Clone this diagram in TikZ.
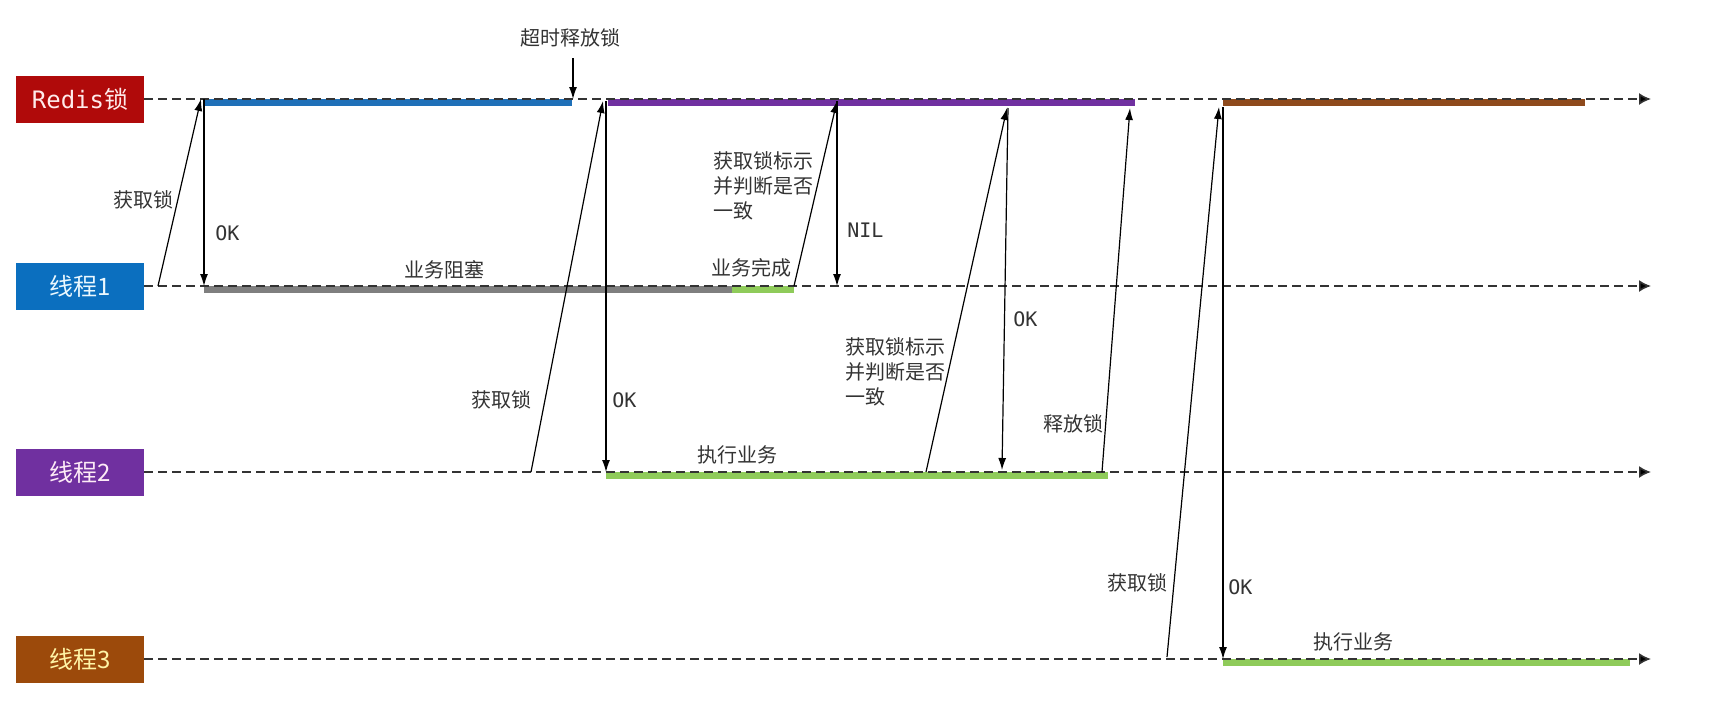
\documentclass[tikz,border=0pt]{standalone}
\usepackage{fontspec}
\setmainfont{Noto Sans CJK SC}
\newfontfamily\mono{DejaVu Sans Mono}
\usetikzlibrary{arrows.meta}

\definecolor{rougeverrou}{HTML}{B00A0A}
\definecolor{bleufil}{HTML}{0B6FBF}
\definecolor{bleubarre}{HTML}{1F70B8}
\definecolor{violetfil}{HTML}{7030A0}
\definecolor{brunfil}{HTML}{9C4A0B}
\definecolor{brunbarre}{HTML}{8E4A1C}
\definecolor{vertbarre}{HTML}{8FCB5A}
\definecolor{grisbarre}{HTML}{7F7F7F}

\begin{document}
\begin{tikzpicture}[x=0.5pt,y=-0.5pt]
    % Styles
    \tikzstyle{fleche}=[-{Latex[length=6pt,width=4pt]},line width=0.6pt,black]
    \tikzstyle{ligne}=[-{Latex[length=6pt,width=6pt,fill=black]},dash pattern=on 4.5pt off 2.5pt,line width=0.8pt,draw=black!80]
    \tikzstyle{boite}=[minimum width=64pt,minimum height=23.5pt,inner sep=0pt,font=\fontsize{12}{14}\selectfont]
    \tikzstyle{etiquette}=[text=black!80,inner sep=0pt,font=\fontsize{10}{12.5}\selectfont]
    \tikzstyle{code}=[text=black!80,inner sep=0pt,anchor=west,font=\mono\fontsize{10}{12}\selectfont]
    % Dimensions
    \def\LigneVerrou{99}
    \def\LigneA{286}
    \def\LigneB{472}
    \def\LigneC{659}
    \def\Epaisseur{7}
    \def\Fin{1651}
    \useasboundingbox (0,0) rectangle (1714,718);
    % Boites
    \node[boite,fill=rougeverrou,text=red!8] (R) at (80,\LigneVerrou) {{\mono Redis}锁};
    \node[boite,fill=bleufil,text=cyan!8] (F1) at (80,\LigneA) {线程1};
    \node[boite,fill=violetfil,text=magenta!8] (F2) at (80,\LigneB) {线程2};
    \node[boite,fill=brunfil,text=orange!25!yellow!35] (F3) at (80,\LigneC) {线程3};
    % Barres
    \fill[bleubarre] (204,\LigneVerrou) rectangle (572,{\LigneVerrou+\Epaisseur});
    \fill[violetfil] (608,\LigneVerrou) rectangle (1135,{\LigneVerrou+\Epaisseur});
    \fill[brunbarre] (1223,\LigneVerrou) rectangle (1585,{\LigneVerrou+\Epaisseur});
    \fill[grisbarre] (204,\LigneA) rectangle (732,{\LigneA+\Epaisseur});
    \fill[vertbarre] (732,\LigneA) rectangle (794,{\LigneA+\Epaisseur});
    \fill[vertbarre] (606,\LigneB) rectangle (1108,{\LigneB+\Epaisseur});
    \fill[vertbarre] (1223,\LigneC) rectangle (1630,{\LigneC+\Epaisseur});
    % Lignes de vie
    \coordinate (Rfin) at (\Fin,\LigneVerrou);
    \coordinate (F1fin) at (\Fin,\LigneA);
    \coordinate (F2fin) at (\Fin,\LigneB);
    \coordinate (F3fin) at (\Fin,\LigneC);
    \draw[ligne] (R.east)--(Rfin);
    \draw[ligne] (F1.east)--(F1fin);
    \draw[ligne] (F2.east)--(F2fin);
    \draw[ligne] (F3.east)--(F3fin);
    % Points
    \coordinate (Ta) at (573,58);
    \coordinate (Tb) at (573,\LigneVerrou);
    \coordinate (Va) at (201,\LigneVerrou);
    \coordinate (Vb) at (204,\LigneVerrou);
    \coordinate (Vc) at (603,101);
    \coordinate (Vd) at (606,101);
    \coordinate (Ve) at (837,101);
    \coordinate (Vf) at (1007,108);
    \coordinate (Vg) at (1008,108);
    \coordinate (Vh) at (1130,108);
    \coordinate (Vi) at (1219,107);
    \coordinate (Vj) at (1223,107);
    \coordinate (Aa) at (158,\LigneA);
    \coordinate (Ab) at (204,\LigneA);
    \coordinate (Ac) at (794,\LigneA);
    \coordinate (Ad) at (837,\LigneA);
    \coordinate (Ba) at (531,\LigneB);
    \coordinate (Bb) at (606,\LigneB);
    \coordinate (Bc) at (926,\LigneB);
    \coordinate (Bd) at (1002,470);
    \coordinate (Be) at (1102,\LigneB);
    \coordinate (Ca) at (1167,657);
    \coordinate (Cb) at (1223,\LigneC);
    % Fleches
    \draw[fleche] (Ta)--(Tb);
    \draw[fleche] (Aa)--(Va);
    \draw[fleche] (Vb)--(Ab);
    \draw[fleche] (Ba)--(Vc);
    \draw[fleche] (Vd)--(Bb);
    \draw[fleche] (Ac)--(Ve);
    \draw[fleche] (Ve)--(Ad);
    \draw[fleche] (Bc)--(Vf);
    \draw[fleche] (Vg)--(Bd);
    \draw[fleche] (Be)--(Vh);
    \draw[fleche] (Ca)--(Vi);
    \draw[fleche] (Vj)--(Cb);
    % Etiquettes
    \node[etiquette] (timeout) at (570,38) {超时释放锁};
    \node[etiquette] (lockA) at (143,200) {获取锁};
    \node[code] (okA) at (215,233) {OK};
    \node[etiquette] (bloque) at (444,270) {业务阻塞};
    \node[etiquette] (fini) at (751,268) {业务完成};
    \node[etiquette,align=left,anchor=north west] (checkA) at (713,151) {获取锁标示\\并判断是否\\一致};
    \node[code] (nil) at (847,230) {NIL};
    \node[etiquette] (lockB) at (501,400) {获取锁};
    \node[code] (okB) at (612,400) {OK};
    \node[etiquette] (execB) at (737,455) {执行业务};
    \node[etiquette,align=left,anchor=north west] (checkB) at (845,337) {获取锁标示\\并判断是否\\一致};
    \node[code] (okC) at (1013,319) {OK};
    \node[etiquette] (release) at (1073,424) {释放锁};
    \node[etiquette] (lockC) at (1137,583) {获取锁};
    \node[code] (okD) at (1228,587) {OK};
    \node[etiquette] (execC) at (1353,642) {执行业务};
\end{tikzpicture}
\end{document}
